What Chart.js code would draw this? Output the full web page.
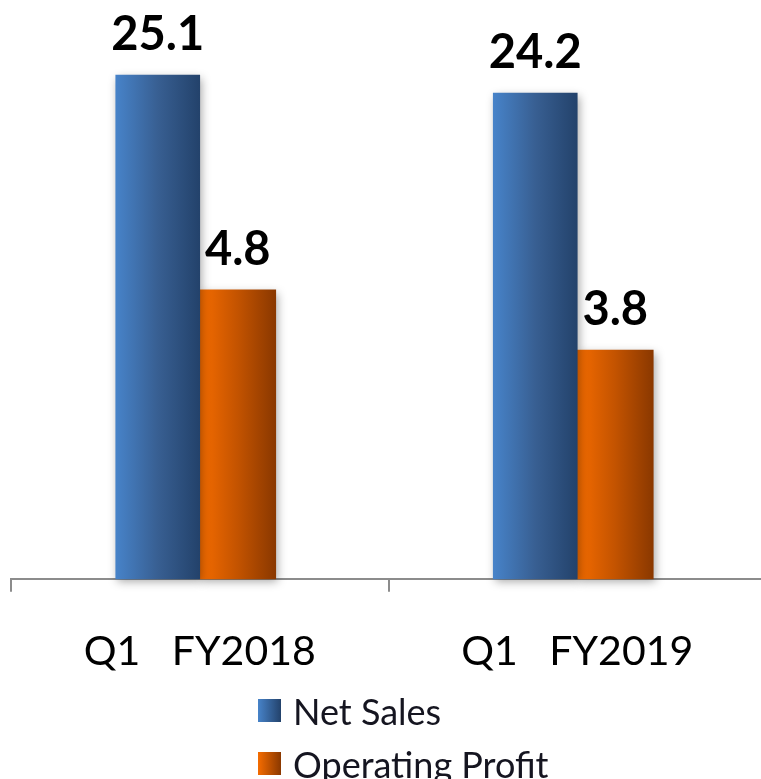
<!DOCTYPE html>
<html>
<head>
<meta charset="utf-8">
<script src="https://cdn.jsdelivr.net/npm/chart.js@4.4.1/dist/chart.umd.min.js"></script>
<style>
  html, body { margin: 0; padding: 0; background: #fff; overflow: hidden; }
  #wrap { position: relative; width: 766px; height: 779px; }
  #box { position: absolute; left: 0; top: 0; width: 766px; height: 724px; }
  #legend { position: absolute; left: 258px; top: 684px; font-family: Lato, sans-serif; font-size: 36px; color: #151520; }
  .item { display: flex; align-items: center; height: 53px; }
  .sw { width: 23px; height: 23px; margin-right: 12px; }
</style>
</head>
<body>
<div id="wrap">
  <div id="box"><canvas id="c"></canvas></div>
  <div id="legend"></div>
</div>
<script>
const categories = ["Q1   FY2018", "Q1   FY2019"];
const netSales = [25.1, 24.2];
const operatingProfit = [4.8, 3.8];
const seriesNames = ["Net Sales", "Operating Profit"];

const gradStops = [
  ["#4783C9", "#385F92", "#23426B"],
  ["#F56C00", "#C35300", "#8A3800"]
];

const gradientPlugin = {
  id: 'barGradient',
  beforeDatasetsDraw(chart) {
    const ctx = chart.ctx;
    chart.data.datasets.forEach((ds, di) => {
      const meta = chart.getDatasetMeta(di);
      meta.data.forEach(el => {
        const p = el.getProps(['x', 'width'], true);
        const left = p.x - p.width / 2;
        const g = ctx.createLinearGradient(left, 0, left + p.width, 0);
        g.addColorStop(0, gradStops[di][0]);
        g.addColorStop(0.5, gradStops[di][1]);
        g.addColorStop(1, gradStops[di][2]);
        el.options = Object.assign({}, el.options, { backgroundColor: g });
      });
    });
  },
  beforeDatasetDraw(chart) {
    const ctx = chart.ctx;
    ctx.save();
    ctx.shadowColor = 'rgba(0,0,0,0.35)';
    ctx.shadowBlur = 9;
    ctx.shadowOffsetX = 2;
    ctx.shadowOffsetY = 3;
  },
  afterDatasetDraw(chart) {
    chart.ctx.restore();
  },
  afterDatasetsDraw(chart) {
    const ctx = chart.ctx;
    ctx.save();
    ctx.font = 'bold 47px Lato, sans-serif';
    ctx.fillStyle = '#000';
    ctx.textAlign = 'center';
    ctx.textBaseline = 'alphabetic';
    chart.data.datasets.forEach((ds, di) => {
      const meta = chart.getDatasetMeta(di);
      meta.data.forEach((el, i) => {
        ctx.fillText(ds.data[i].toFixed(1), el.x, el.y - 25);
      });
    });
    ctx.restore();
  }
};

new Chart(document.getElementById('c'), {
  type: 'bar',
  data: {
    labels: categories,
    datasets: [
      { label: seriesNames[0], data: netSales, yAxisID: 'y', barThickness: 84, backgroundColor: '#4783C9', clip: false },
      { label: seriesNames[1], data: operatingProfit, yAxisID: 'y2', barThickness: 76, backgroundColor: '#F56C00', clip: false }
    ]
  },
  options: {
    responsive: true,
    maintainAspectRatio: false,
    animation: false,
    layout: { padding: { top: 37, bottom: 13, left: 11, right: 0 } },
    plugins: { legend: { display: false }, tooltip: { enabled: false } },
    scales: {
      x: {
        offset: true,
        grid: { offset: true, drawOnChartArea: false, drawTicks: true, tickLength: 13, color: '#8c8c8c', lineWidth: 2 },
        border: { display: true, color: '#8c8c8c', width: 2 },
        ticks: { font: { family: 'Lato, sans-serif', size: 41 }, color: '#000', padding: 35 }
      },
      y: { display: false, min: 0, max: 27 },
      y2: { display: false, min: 0, max: 9, position: 'right' }
    }
  },
  plugins: [gradientPlugin]
});

const legend = document.getElementById('legend');
seriesNames.forEach((n, i) => {
  const it = document.createElement('div');
  it.className = 'item';
  const sw = document.createElement('div');
  sw.className = 'sw';
  sw.style.background = `linear-gradient(to right, ${gradStops[i][0]}, ${gradStops[i][2]})`;
  const t = document.createElement('span');
  t.textContent = n;
  it.appendChild(sw); it.appendChild(t);
  legend.appendChild(it);
});
</script>
</body>
</html>
